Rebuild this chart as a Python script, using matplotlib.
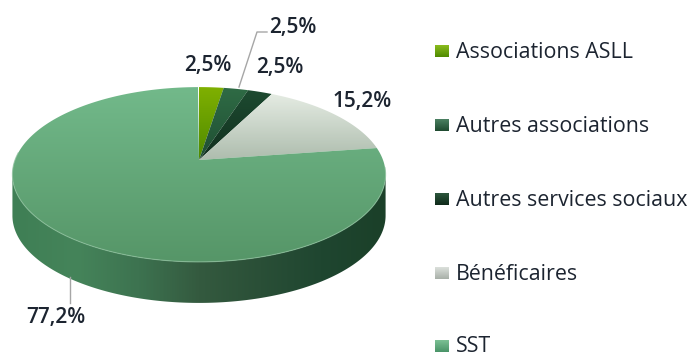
import numpy as np
import matplotlib
matplotlib.use('Agg')
from matplotlib import pyplot as plt
from matplotlib.colors import LinearSegmentedColormap
from matplotlib.patches import Polygon

##==============================================================================
categories = ['Associations ASLL','Autres associations','Autres services sociaux',
              'Bénéficaires','SST']
shares = [2.5,2.5,2.5,15.2,77.2]
share_labels = ['2,5%','2,5%','2,5%','15,2%','77,2%']
top_colours = [('#7fb000','#4f8a00'),('#2f6b45','#1f4f33'),('#1d4a30','#12301f'),
               ('#e4ebe2','#aebdae'),('#72b98a','#569668')]
leg_colours = [('#8fc020','#4f8a00'),('#4f8566','#1f4a30'),('#2f5a40','#0f2a1a'),
               ('#e0e4e0','#a8b0a8'),('#80c498','#4a9468')]
##==============================================================================
W,H = 692,358
# projected pie: apex, radii and perspective factor
CX,CY,RX,RY,P = 199.,160.,184.,85.,0.166
DEPTH = 41.

def rim(theta):
    # clockwise from 12 o'clock, with a bit of perspective
    u,v = np.sin(theta),np.cos(theta)
    return CX + RX*u/(1+P*v), CY - RY*v/(1+P*v)

def gradient_fill(ax,verts,colours,vertical=True,zorder=2):
    cmap = LinearSegmentedColormap.from_list('g',colours)
    xs,ys = verts[:,0],verts[:,1]
    g = np.linspace(0,1,64)
    g = g[:,None] if vertical else g[None,:]
    im = ax.imshow(g,cmap=cmap,extent=(xs.min(),xs.max(),ys.max(),ys.min()),
                   aspect='auto',zorder=zorder,interpolation='bilinear')
    patch = Polygon(verts,closed=True,fc='none',ec='none',transform=ax.transData)
    ax.add_patch(patch)
    im.set_clip_path(patch)

fig = plt.figure(figsize=(W/100,H/100),dpi=100)
plt.rcParams['font.family'] = ['Open Sans','DejaVu Sans']
ax = fig.add_axes([0,0,1,1])
ax.set_xlim(0,W)
ax.set_ylim(H,0)
ax.axis('off')

# side wall first, darkest towards the right
t = np.linspace(np.radians(82),np.radians(360),500)
x,y = rim(t)
keep = np.where(np.diff(x) < 0)[0]
x,y = x[keep],y[keep]
wall = np.column_stack([np.r_[x,x[::-1]],np.r_[y,y[::-1]+DEPTH]])
wall_cmap = ['#3f7f55','#45845a','#3d7350','#345a3f','#2a4f37','#1f4630','#1b4029']
gradient_fill(ax,wall,wall_cmap,vertical=False,zorder=1)

# top of the pie
edges = np.radians(np.r_[0,np.cumsum(shares)]*3.6)
for i in range(len(shares)):
    t = np.linspace(edges[i],edges[i+1],200)
    x,y = rim(t)
    verts = np.column_stack([np.r_[CX,x],np.r_[CY,y]])
    gradient_fill(ax,verts,top_colours[i],zorder=2)

# light bevel along the front of the rim
t = np.linspace(np.radians(95),np.radians(275),300)
x,y = rim(t)
ax.plot(x,y,color='#8cc09c',lw=0.8,alpha=0.7,zorder=3)

# leader lines
ax.plot([239,257,267],[87,32,32],color='#a6a6a6',lw=1,zorder=3)
ax.plot([70,70],[277,303],color='#a6a6a6',lw=1,zorder=3)

label_pos = [(208,66),(293,27),(280,68),(362,101),(56,318)]
for lab,(lx,ly) in zip(share_labels,label_pos):
    ax.text(lx,ly,lab,ha='center',va='center',fontsize=15,fontweight='semibold',color='#1c2430')

leg_y = [51,125,199,273,346]
for name,col,ly in zip(categories,leg_colours,leg_y):
    swatch = np.array([(435,ly-6.5),(449,ly-6.5),(449,ly+6.5),(435,ly+6.5)])
    gradient_fill(ax,swatch,col,zorder=3)
    ax.text(456,ly+1,name,ha='left',va='center',fontsize=15.4,color='#1c2430')

plt.savefig('out.png',dpi=100)
